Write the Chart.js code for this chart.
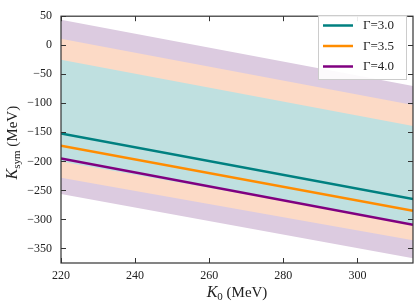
<!DOCTYPE html>
<html>
<head>
<meta charset="utf-8">
<script src="https://cdn.jsdelivr.net/npm/chart.js@4"></script>
<style>
  html, body { margin: 0; padding: 0; background: #fff; }
  #wrap { width: 416px; height: 303px; }
</style>
</head>
<body>
<div id="wrap"><canvas id="chart" width="416" height="303"></canvas></div>
<script>
// K0 range (MeV) at the two ends of the plot
const k0 = [220, 315];

// central lines
const gamma30 = [-152, -265];
const gamma35 = [-173, -285];
const gamma40 = [-195, -309];

// band edges (upper / lower)
const band30Upper = [-25, -139];
const band30Lower = [-200, -308];
const band35Upper = [11, -103];
const band35Lower = [-228, -336];
const band40Upper = [44, -70];
const band40Lower = [-256, -367];

const lineLabels = ["\u0393=3.0", "\u0393=3.5", "\u0393=4.0"];
const xTicks = [220, 240, 260, 280, 300];
const yTicks = [-350, -300, -250, -200, -150, -100, -50, 0, 50];

const SERIF = "'Liberation Serif', 'DejaVu Serif', serif";

function pts(ys) {
  return k0.map((x, i) => ({ x, y: ys[i] }));
}

function band(ys, color, order, target) {
  return {
    data: pts(ys),
    borderWidth: 0,
    pointRadius: 0,
    backgroundColor: color,
    fill: target === undefined ? false : { target },
    order,
    isBand: true,
  };
}

function line(label, ys, color, order) {
  return {
    label,
    data: pts(ys),
    borderColor: color,
    borderWidth: 2.5,
    pointRadius: 0,
    fill: false,
    order,
  };
}

// frame, inward ticks on all sides, axis titles, legend
const decor = {
  id: "decor",
  afterDraw(chart) {
    const { ctx, chartArea: a, scales } = chart;
    ctx.save();
    ctx.strokeStyle = "#333";
    ctx.lineWidth = 1.2;
    ctx.strokeRect(a.left, a.top, a.right - a.left, a.bottom - a.top);

    ctx.lineWidth = 1;
    ctx.beginPath();
    xTicks.forEach((v) => {
      const px = Math.round(scales.x.getPixelForValue(v)) + 0.5;
      ctx.moveTo(px, a.bottom); ctx.lineTo(px, a.bottom - 5);
      ctx.moveTo(px, a.top); ctx.lineTo(px, a.top + 5);
    });
    yTicks.forEach((v) => {
      const py = Math.round(scales.y.getPixelForValue(v)) + 0.5;
      ctx.moveTo(a.left, py); ctx.lineTo(a.left + 5, py);
      ctx.moveTo(a.right, py); ctx.lineTo(a.right - 5, py);
    });
    ctx.stroke();

    // x title: K0 (MeV)
    ctx.fillStyle = "#222";
    ctx.textBaseline = "alphabetic";
    const xParts = [
      { t: "K", f: "italic 16px " + SERIF, dy: 0 },
      { t: "0", f: "11px " + SERIF, dy: 3 },
      { t: " (MeV)", f: "15px " + SERIF, dy: 0 },
    ];
    drawParts(ctx, xParts, (a.left + a.right) / 2, 297);

    // y title: Ksym (MeV), rotated
    ctx.save();
    ctx.translate(17, (a.top + a.bottom) / 2 + 3);
    ctx.rotate(-Math.PI / 2);
    const yParts = [
      { t: "K", f: "italic 16px " + SERIF, dy: 0 },
      { t: "sym", f: "11px " + SERIF, dy: 3 },
      { t: " (MeV)", f: "15px " + SERIF, dy: 0 },
    ];
    drawParts(ctx, yParts, 0, 0);
    ctx.restore();

    // legend box
    const lx = 318, ly = 15, lw = 88, lh = 64;
    ctx.fillStyle = "rgba(255,255,255,0.9)";
    ctx.fillRect(lx, ly, lw, lh);
    ctx.strokeStyle = "#ccc";
    ctx.lineWidth = 1;
    ctx.strokeRect(lx + 0.5, ly + 0.5, lw, lh);
    const lines = chart.data.datasets.filter((d) => !d.isBand);
    lines.forEach((d, i) => {
      const y = 25.5 + i * 20.5;
      ctx.strokeStyle = d.borderColor;
      ctx.lineWidth = 2.5;
      ctx.beginPath();
      ctx.moveTo(323, y); ctx.lineTo(353, y);
      ctx.stroke();
      ctx.fillStyle = "#222";
      ctx.font = "13px " + SERIF;
      ctx.textBaseline = "middle";
      ctx.fillText(d.label, 363, y + 0.5);
    });
    ctx.restore();
  },
};

function drawParts(ctx, parts, cx, baseY) {
  let total = 0;
  parts.forEach((p) => { ctx.font = p.f; total += ctx.measureText(p.t).width; });
  let x = cx - total / 2;
  parts.forEach((p) => {
    ctx.font = p.f;
    ctx.fillText(p.t, x, baseY + p.dy);
    x += ctx.measureText(p.t).width;
  });
}

const minus = (v) => String(v).replace("-", "\u2212");

new Chart(document.getElementById("chart").getContext("2d"), {
  type: "line",
  data: {
    datasets: [
      band(band40Upper, "#dccbe0", 30, 1),
      band(band40Lower, "#dccbe0", 29),
      band(band35Upper, "#fcdac6", 20, 3),
      band(band35Lower, "#fcdac6", 19),
      band(band30Upper, "#bfe0e0", 10, 5),
      band(band30Lower, "#bfe0e0", 9),
      line(lineLabels[0], gamma30, "#008080", 3),
      line(lineLabels[1], gamma35, "#ff8c00", 2),
      line(lineLabels[2], gamma40, "#800080", 1),
    ],
  },
  options: {
    responsive: false,
    animation: false,
    layout: { padding: { top: 8, right: 3, left: 0, bottom: 0 } },
    plugins: {
      legend: { display: false },
      tooltip: { enabled: false },
      filler: { propagate: false },
    },
    scales: {
      x: {
        type: "linear",
        min: 220,
        max: 315,
        afterBuildTicks: (s) => { s.ticks = xTicks.map((v) => ({ value: v })); },
        afterFit: (s) => { s.height = 40; },
        grid: { display: false, drawTicks: false },
        border: { display: false },
        ticks: { color: "#222", font: { family: SERIF, size: 12 }, padding: 6 },
      },
      y: {
        type: "linear",
        min: -375,
        max: 50,
        afterBuildTicks: (s) => { s.ticks = yTicks.map((v) => ({ value: v })); },
        afterFit: (s) => { s.width = 61; },
        grid: { display: false, drawTicks: false },
        border: { display: false },
        ticks: {
          color: "#222",
          font: { family: SERIF, size: 12 },
          padding: 9,
          callback: (v) => minus(v),
        },
      },
    },
  },
  plugins: [decor],
});
</script>
</body>
</html>
